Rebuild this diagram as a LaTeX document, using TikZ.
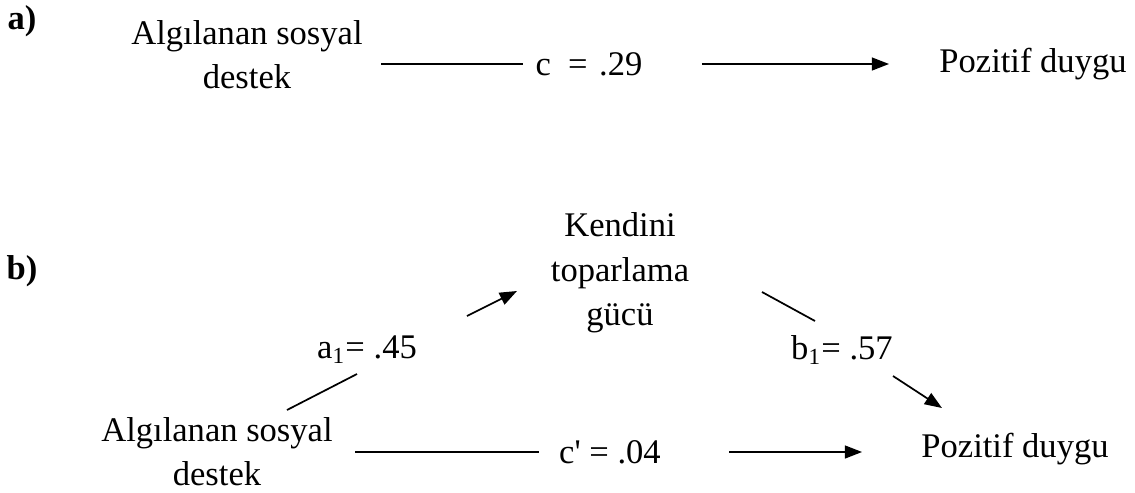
\documentclass[tikz,border=0pt]{standalone}
\usepackage{fontspec}
\setmainfont{Liberation Serif}
\usetikzlibrary{arrows.meta}

\begin{document}
\begin{tikzpicture}[x=0.0122cm, y=-0.0122cm,
  var/.style={align=center, font=\fontsize{12}{15.4}\selectfont, inner sep=0pt},
  lbl/.style={font=\fontsize{12}{15.4}\selectfont, inner sep=0pt},
  tag/.style={font=\fontsize{12}{15.4}\selectfont\bfseries, inner sep=0pt},
  ln/.style={line width=0.6pt},
  arr/.style={line width=0.6pt, -{Triangle[length=6pt, width=4.5pt]}}
]
\useasboundingbox (0,0) rectangle (1135,493);
% a) total effect
\node[tag] (ta) at (22,21) {a)};
\node[var] (ast1) at (247,55) {Algılanan sosyal\\destek};
\node[lbl] (c)    at (589,64) {c\hspace{6pt}=\hspace{4pt}.29};
\node[var] (pd1)  at (1033,64) {Pozitif duygu};
\draw[ln, shorten <=18*0.346pt, shorten >=12*0.346pt] (ast1.east |- c) -- (c.west);
\draw[arr, shorten <=59*0.346pt, shorten >=50*0.346pt] (c.east) -- (pd1.west |- c);

% b) mediation
\node[tag] (tb) at (22,271) {b)};
\node[var] (ktg)  at (620,273) {Kendini\\toparlama\\gücü};
\node[var] (ast2) at (217,452) {Algılanan sosyal\\destek};
\node[var] (pd2)  at (1015,449) {Pozitif duygu};
\node[lbl] (a1)   at (367,350) {a\textsubscript{1}= .45};
\node[lbl] (b1)   at (842,350) {b\textsubscript{1}= .57};
\node[lbl] (cp)   at (610,452) {c\textquotesingle\ = .04};
\coordinate (a1s) at (287,410); \coordinate (a1e) at (357,374);
\coordinate (a2s) at (467,316); \coordinate (a2e) at (517,291);
\coordinate (b1s) at (762,292); \coordinate (b1e) at (815,321);
\coordinate (b2s) at (893,376); \coordinate (b2e) at (942,408);
\draw[ln]  (a1s) -- (a1e);
\draw[arr] (a2s) -- (a2e);
\draw[ln]  (b1s) -- (b1e);
\draw[arr] (b2s) -- (b2e);
\draw[ln, shorten <=22*0.346pt, shorten >=20*0.346pt] (ast2.east |- cp) -- (cp.west);
\draw[arr, shorten <=68*0.346pt, shorten >=59*0.346pt] (cp.east) -- (pd2.west |- cp);
\end{tikzpicture}
\end{document}
